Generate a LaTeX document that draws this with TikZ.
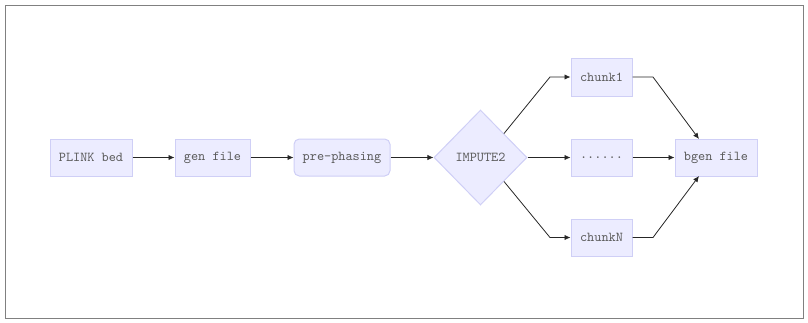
\documentclass[tikz,border=0pt]{standalone}
\usetikzlibrary{shapes.geometric,arrows.meta}

\definecolor{boxfill}{HTML}{ECECFF}
\definecolor{boxline}{HTML}{CFCFF6}
\definecolor{boxtext}{HTML}{5A5A5A}

\begin{document}
\begin{tikzpicture}[
        x=0.75pt, y=-0.75pt,
        every node/.style={font=\ttfamily\fontsize{10.2pt}{12pt}\selectfont, text=boxtext},
        stage/.style={draw=boxline, fill=boxfill, line width=0.75pt,
            minimum height=27.75pt, inner sep=0pt},
        decision/.style={diamond, draw=boxline, fill=boxfill, line width=0.75pt,
            minimum width=69.75pt, minimum height=71.25pt, inner sep=0pt},
        arr/.style={draw=black!85, line width=0.6pt, -{Latex[length=4.5pt,width=4pt]}}
    ]
        \useasboundingbox (0,0) rectangle (808,322);
        \draw[gray, line width=0.75pt] (5,5) rectangle (803,318);

        \node[stage, minimum width=61.5pt] (plink) at (91,157.5) {PLINK bed};
        \node[stage, minimum width=56.25pt] (gen) at (212.5,157.5) {gen file};
        \node[stage, rounded corners=4pt, minimum width=72pt] (phase) at (342,157.5) {pre-phasing};
        \node[decision] (imp) at (480.5,157.5) {IMPUTE2};

        \node[stage, minimum width=45.75pt, minimum height=28.5pt] (c1) at (601.5,77) {chunk1};
        \node[stage, minimum width=45.75pt] (cdots) at (601.5,157.5) {......};
        \node[stage, minimum width=45.75pt] (cn) at (601.5,237.5) {chunkN};
        \node[stage, minimum width=61.5pt] (bgen) at (716,157.5) {bgen file};

        % bends of the fan-out and fan-in
        \coordinate (k1) at (550,77);
        \coordinate (kn) at (550,237.5);
        \coordinate (j1) at (653,77);
        \coordinate (jn) at (653,237.5);
        \coordinate (b1) at (699,139);
        \coordinate (bn) at (699,176);

        \draw[arr] (plink) -- (gen);
        \draw[arr] (gen) -- (phase);
        \draw[arr] (phase) -- (imp);
        \draw[arr] (imp.north east) -- (k1) -- (c1);
        \draw[arr] (imp) -- (cdots);
        \draw[arr] (imp.south east) -- (kn) -- (cn);
        \draw[arr] (c1) -- (j1) -- (b1);
        \draw[arr] (cdots) -- (bgen);
        \draw[arr] (cn) -- (jn) -- (bn);
\end{tikzpicture}
\end{document}
